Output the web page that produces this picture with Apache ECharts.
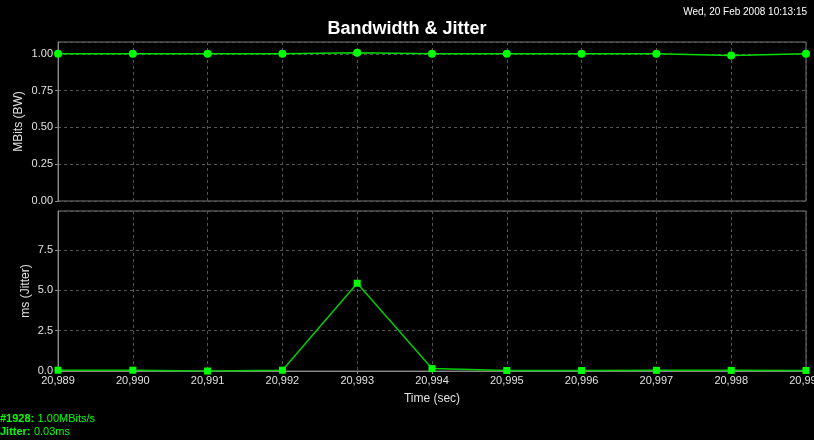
<!DOCTYPE html>
<html>
<head>
<meta charset="utf-8">
<script src="https://cdn.jsdelivr.net/npm/echarts@6/dist/echarts.min.js"></script>
<style>
  html, body { margin: 0; padding: 0; background: #000; }
  #main { width: 814px; height: 440px; }
</style>
</head>
<body>
<div id="main"></div>
<script>
// time axis (sec)
var times = [20989, 20990, 20991, 20992, 20993, 20994, 20995, 20996, 20997, 20998, 20999];
// bandwidth, MBits
var bandwidth = [1.00, 1.00, 1.00, 1.00, 1.007, 1.00, 1.00, 1.00, 1.00, 0.988, 1.00];
// jitter, ms
var jitter = [0.05, 0.05, 0.0, 0.05, 5.43, 0.15, 0.03, 0.03, 0.04, 0.04, 0.03];

var stamp = 'Wed, 20 Feb 2008 10:13:15';
var bwText = '1.00MBits/s';
var jitText = '0.03ms';

var chart = echarts.init(document.getElementById('main'));

function pairs(ys) {
  return times.map(function (t, i) { return [t, ys[i]]; });
}
function comma(v) {
  return String(v).replace(/\B(?=(\d{3})+(?!\d))/g, ',');
}

var font = 'Liberation Sans, Arial, sans-serif';
var labelColor = '#e0e0e0';
var splitStyle = { show: true, lineStyle: { color: '#555', type: [3, 3], width: 1 } };

var option = {
  backgroundColor: '#000',
  animation: false,
  title: [{
    text: 'Bandwidth & Jitter',
    left: 'center',
    top: 15,
    textStyle: { color: '#fff', fontSize: 18, fontWeight: 'bold', fontFamily: font }
  }, {
    text: stamp,
    right: 2,
    top: 2,
    textStyle: { color: '#fff', fontSize: 10, fontWeight: 'normal', fontFamily: font }
  }],
  graphic: [{
    type: 'text',
    left: 0,
    top: 413,
    style: {
      text: '{b|#1928:} {n|' + bwText + '}\n{b|Jitter:} {n|' + jitText + '}',
      rich: {
        b: { fill: '#00ff00', fontWeight: 'bold', fontSize: 11, fontFamily: font, lineHeight: 13 },
        n: { fill: '#00ff00', fontSize: 11, fontFamily: font, lineHeight: 13 }
      }
    }
  }],
  grid: [
    { left: 58, top: 42, width: 748, height: 159, show: true, borderColor: '#777', borderWidth: 1,
      outerBoundsMode: 'none', containLabel: false },
    { left: 58, top: 211, width: 748, height: 160, show: true, borderColor: '#777', borderWidth: 1,
      outerBoundsMode: 'none', containLabel: false }
  ],
  xAxis: [{
    gridIndex: 0, type: 'value', min: 20989, max: 20999, interval: 1,
    axisLine: { show: false }, axisTick: { show: false },
    axisLabel: { show: false },
    splitLine: splitStyle
  }, {
    gridIndex: 1, type: 'value', min: 20989, max: 20999, interval: 1,
    name: 'Time (sec)', nameLocation: 'middle', nameGap: 22, nameMoveOverlap: false,
    nameTextStyle: { color: labelColor, fontSize: 12, fontFamily: font },
    axisLine: { show: true, onZero: false, lineStyle: { color: '#888' } },
    axisTick: { show: true, length: 3, lineStyle: { color: '#888' } },
    axisLabel: { color: labelColor, fontSize: 11, fontFamily: font, margin: 4, formatter: comma },
    splitLine: splitStyle
  }],
  yAxis: [{
    gridIndex: 0, type: 'value', min: 0, max: 1.08, interval: 0.25,
    name: 'MBits (BW)', nameLocation: 'middle', nameGap: 33, nameMoveOverlap: false,
    nameTextStyle: { color: labelColor, fontSize: 12, fontFamily: font },
    axisLine: { show: true, lineStyle: { color: '#888' } },
    axisTick: { show: true, length: 3, lineStyle: { color: '#888' } },
    axisLabel: { color: labelColor, fontSize: 11, fontFamily: font, margin: 5, showMaxLabel: false,
      formatter: function (v) { return v.toFixed(2); } },
    splitLine: splitStyle
  }, {
    gridIndex: 1, type: 'value', min: 0, max: 9.9, interval: 2.5,
    name: 'ms (Jitter)', nameLocation: 'middle', nameGap: 26, nameMoveOverlap: false,
    nameTextStyle: { color: labelColor, fontSize: 12, fontFamily: font },
    axisLine: { show: true, lineStyle: { color: '#888' } },
    axisTick: { show: true, length: 3, lineStyle: { color: '#888' } },
    axisLabel: { color: labelColor, fontSize: 11, fontFamily: font, margin: 5, showMaxLabel: false,
      formatter: function (v) { return v.toFixed(1); } },
    splitLine: splitStyle
  }],
  series: [{
    type: 'line',
    xAxisIndex: 0, yAxisIndex: 0,
    data: pairs(bandwidth),
    symbol: 'circle', symbolSize: 8,
    itemStyle: { color: '#00ff00' },
    lineStyle: { color: '#00dd00', width: 1.5 }
  }, {
    type: 'line',
    xAxisIndex: 1, yAxisIndex: 1,
    data: pairs(jitter),
    symbol: 'rect', symbolSize: 7,
    itemStyle: { color: '#00ff00' },
    lineStyle: { color: '#00cc00', width: 1.5 }
  }]
};

chart.setOption(option);
</script>
</body>
</html>
